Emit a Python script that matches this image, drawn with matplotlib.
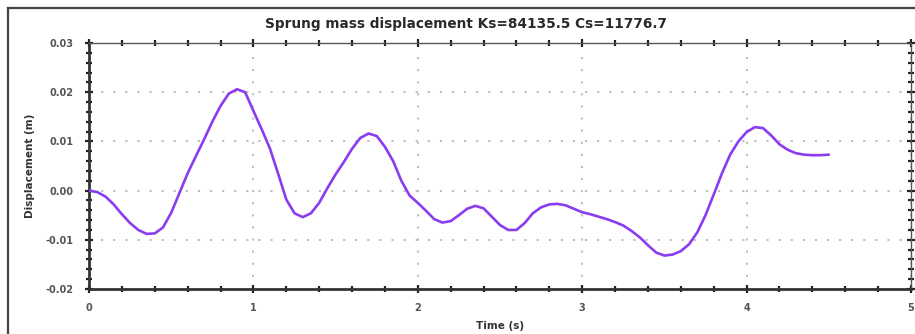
import matplotlib
matplotlib.use("Agg")
import matplotlib.pyplot as plt
from matplotlib.ticker import MultipleLocator, FormatStrFormatter
from matplotlib.lines import Line2D

# Sprung mass response sampled every 0.05 s
time_s = [0.00, 0.05, 0.10, 0.15, 0.20, 0.25, 0.30, 0.35, 0.40, 0.45,
          0.50, 0.55, 0.60, 0.65, 0.70, 0.75, 0.80, 0.85, 0.90, 0.95,
          1.00, 1.05, 1.10, 1.15, 1.20, 1.25, 1.30, 1.35, 1.40, 1.45,
          1.50, 1.55, 1.60, 1.65, 1.70, 1.75, 1.80, 1.85, 1.90, 1.95,
          2.00, 2.05, 2.10, 2.15, 2.20, 2.25, 2.30, 2.35, 2.40, 2.45,
          2.50, 2.55, 2.60, 2.65, 2.70, 2.75, 2.80, 2.85, 2.90, 2.95,
          3.00, 3.05, 3.10, 3.15, 3.20, 3.25, 3.30, 3.35, 3.40, 3.45,
          3.50, 3.55, 3.60, 3.65, 3.70, 3.75, 3.80, 3.85, 3.90, 3.95,
          4.00, 4.05, 4.10, 4.15, 4.20, 4.25, 4.30, 4.35, 4.40, 4.45,
          4.50]
displacement_m = [0.0000, -0.0003, -0.0012, -0.0028, -0.0048, -0.0066, -0.0080, -0.0088, -0.0087, -0.0075,
                  -0.0045, -0.0005, 0.0035, 0.0070, 0.0104, 0.0140, 0.0172, 0.0197, 0.0206, 0.0200,
                  0.0162, 0.0125, 0.0086, 0.0035, -0.0018, -0.0046, -0.0054, -0.0046, -0.0025, 0.0005,
                  0.0033, 0.0058, 0.0085, 0.0107, 0.0116, 0.0111, 0.0089, 0.0060, 0.0020, -0.0010,
                  -0.0025, -0.0041, -0.0058, -0.0065, -0.0062, -0.0050, -0.0037, -0.0031, -0.0036, -0.0053,
                  -0.0070, -0.0080, -0.0080, -0.0066, -0.0046, -0.0034, -0.0028, -0.0027, -0.0030, -0.0037,
                  -0.0044, -0.0048, -0.0053, -0.0058, -0.0064, -0.0071, -0.0082, -0.0095, -0.0111, -0.0126,
                  -0.0132, -0.0130, -0.0123, -0.0109, -0.0085, -0.0050, -0.0008, 0.0035, 0.0073, 0.0100,
                  0.0119, 0.0129, 0.0127, 0.0112, 0.0094, 0.0083, 0.0076, 0.0073, 0.0072, 0.0072,
                  0.0073]

title_text = "Sprung mass displacement Ks=84135.5 Cs=11776.7"
x_label = "Time (s)"
y_label = "Displacement (m)"

plt.rcParams["font.family"] = ["DejaVu Sans"]

W, H = 915, 334
fig = plt.figure(figsize=(W / 100, H / 100), dpi=100)
fig.patch.set_facecolor("white")

# axes box in pixel coordinates
left, right, top, bottom = 89, 911, 43, 289
ax = fig.add_axes([left / W, 1 - bottom / H, (right - left) / W, (bottom - top) / H])

ax.plot(time_s, displacement_m, color="#8a3cf0", lw=1.9, solid_capstyle="round",
        solid_joinstyle="round", zorder=3)

ax.set_xlim(0, 5)
ax.set_ylim(-0.02, 0.03)
ax.xaxis.set_major_locator(MultipleLocator(1))
ax.xaxis.set_minor_locator(MultipleLocator(0.2))
ax.yaxis.set_major_locator(MultipleLocator(0.01))
ax.yaxis.set_minor_locator(MultipleLocator(0.002))
ax.xaxis.set_major_formatter(FormatStrFormatter("%d"))
ax.yaxis.set_major_formatter(FormatStrFormatter("%.2f"))

ax.grid(True, which="major", color="#b8b8b8", linestyle=(0, (1.2, 5.5)), lw=1.3, zorder=1)

for side in ("left", "bottom"):
    ax.spines[side].set_linewidth(2.0)
    ax.spines[side].set_color("#333333")
for side in ("top", "right"):
    ax.spines[side].set_linewidth(1.0)
    ax.spines[side].set_color("#555555")

ax.tick_params(which="both", top=True, right=True, colors="#222222")
ax.tick_params(which="major", direction="inout", length=6, width=1.6,
               labelsize=7, labelcolor="#555555")
ax.tick_params(which="minor", direction="inout", length=4, width=1.6)
ax.tick_params(axis="y", which="major", pad=8)
ax.tick_params(axis="x", which="major", pad=7)
for lbl in ax.get_xticklabels() + ax.get_yticklabels():
    lbl.set_fontweight("bold")

ax.set_xlabel(x_label, fontsize=7.5, fontweight="bold", color="#333333", labelpad=6)
ax.set_ylabel(y_label, fontsize=7.5, fontweight="bold", color="#333333", labelpad=8)

fig.text(466 / W, 1 - 24 / H, title_text, ha="center", va="center",
         fontsize=9.8, fontweight="bold", color="#2a2a2a")

# outer panel frame
fig.add_artist(Line2D([8 / W, 8 / W], [0, 1 - 8 / H], transform=fig.transFigure,
                      color="#444444", lw=1.6))
fig.add_artist(Line2D([8 / W, 1], [1 - 8 / H, 1 - 8 / H], transform=fig.transFigure,
                      color="#444444", lw=1.6))

fig.savefig("out.png", dpi=100)
